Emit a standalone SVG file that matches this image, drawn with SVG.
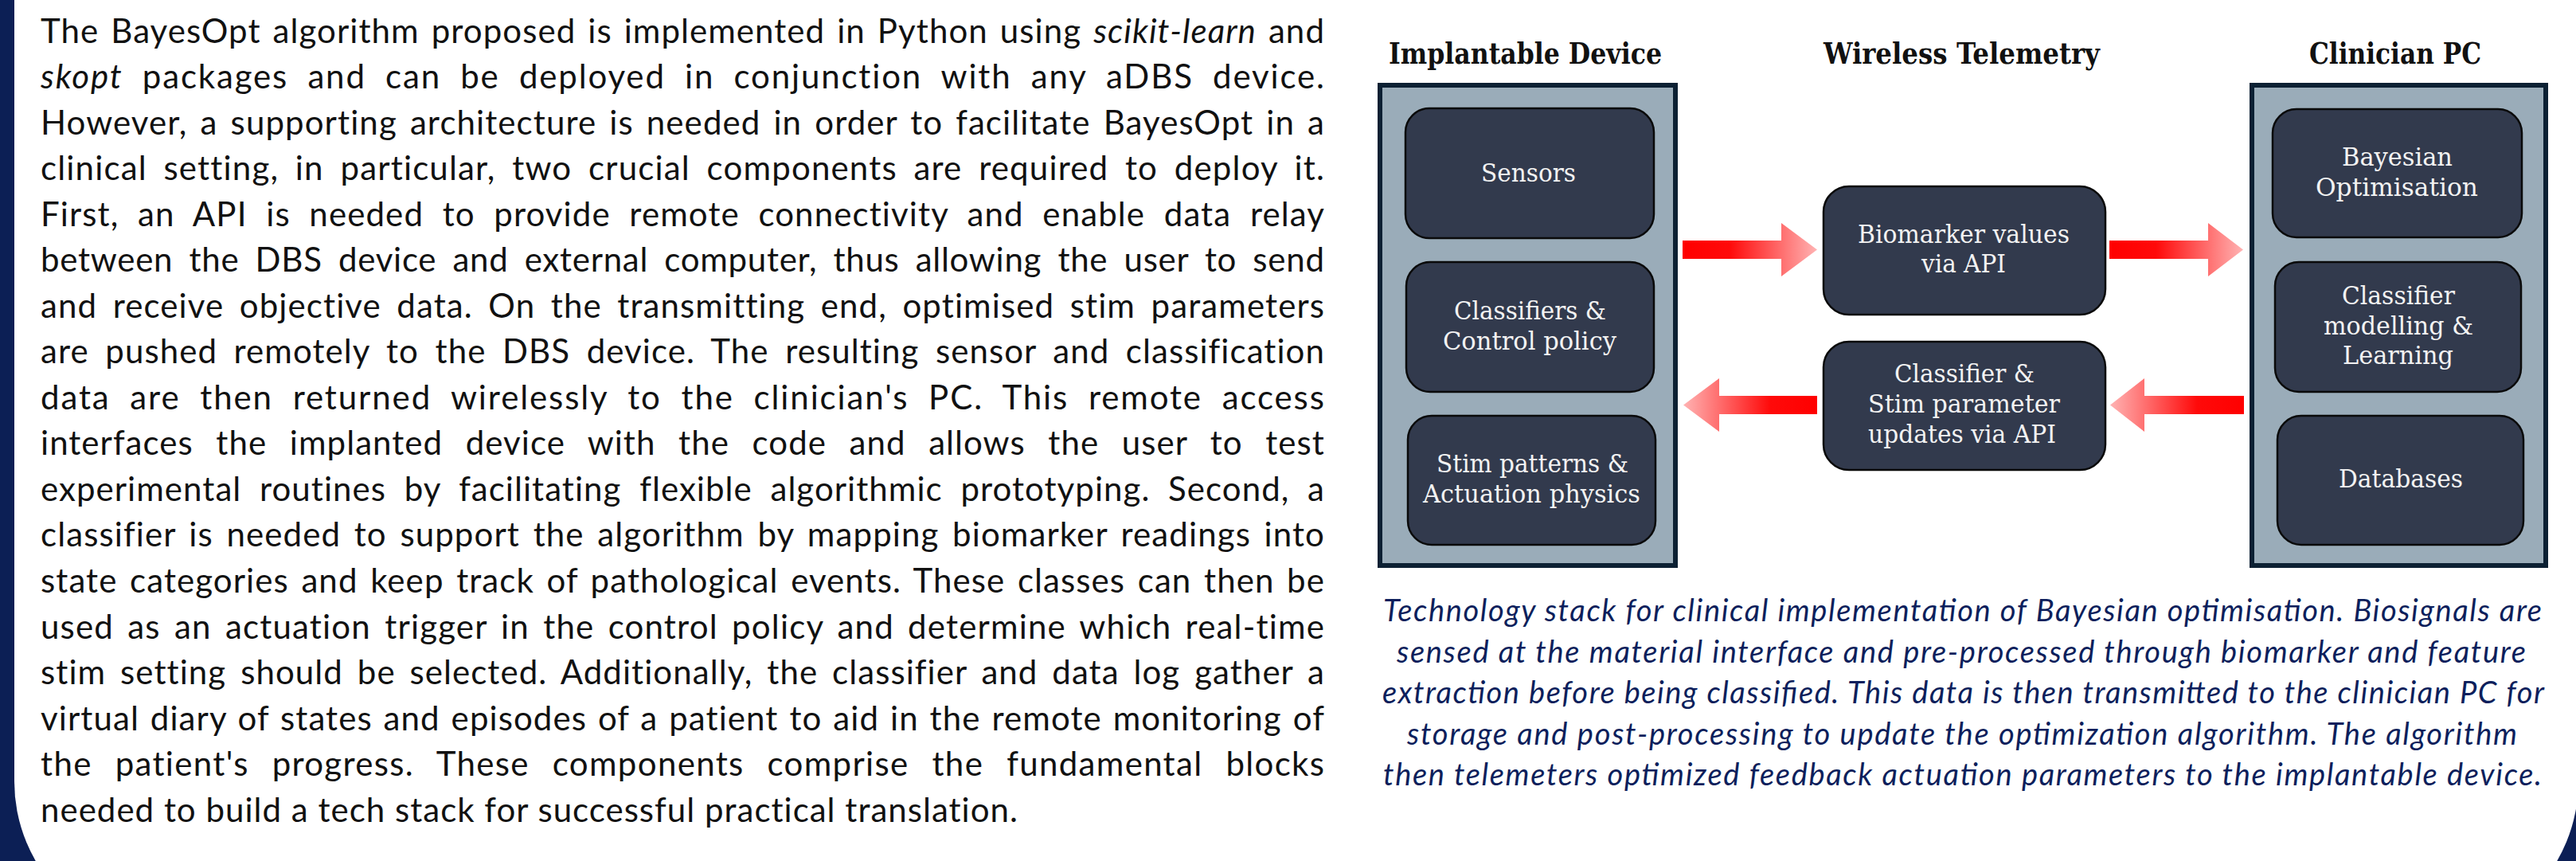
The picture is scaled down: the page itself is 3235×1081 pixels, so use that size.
<svg xmlns="http://www.w3.org/2000/svg" width="3235" height="1081" viewBox="0 0 3235 1081">
<style>
.para{font-family:Lato,"Liberation Sans",sans-serif;font-size:42px;fill:#111111;letter-spacing:1.1px}
.cap{font-family:Lato,"Liberation Sans",sans-serif;font-style:italic;font-size:38px;fill:#0d1f5c}
.hd{font-family:"DejaVu Serif","Liberation Serif",serif;font-weight:bold;font-size:37px;fill:#111111}
.lbl{font-family:"DejaVu Serif","Liberation Serif",serif;font-size:31px;fill:#f2f2f2}
.container{fill:#9aacb9;stroke:#0c2033;stroke-width:6}
.node rect{fill:#323a4d;stroke:#0a0a0a;stroke-width:2.5}
</style>
<defs>
<linearGradient id="gR" x1="0" y1="0" x2="1" y2="0">
<stop offset="0" stop-color="#ff0000"/>
<stop offset="0.35" stop-color="#ff0a0a"/>
<stop offset="1" stop-color="#ffb3b3"/>
</linearGradient>
<linearGradient id="gL" x1="1" y1="0" x2="0" y2="0">
<stop offset="0" stop-color="#ff0000"/>
<stop offset="0.35" stop-color="#ff0a0a"/>
<stop offset="1" stop-color="#ffb3b3"/>
</linearGradient>
</defs>
<rect x="0" y="0" width="3235" height="1081" fill="#0c1f55"/>
<rect x="18" y="-400" width="3220" height="1581" rx="200" fill="#ffffff"/>

<g id="paragraph" class="para">
<text x="51" y="53.5" word-spacing="3.2" textLength="1613" lengthAdjust="spacing">The BayesOpt algorithm proposed is implemented in Python using <tspan font-style="italic">scikit-learn</tspan> and</text>
<text x="51" y="111" word-spacing="11.7" textLength="1613" lengthAdjust="spacing"><tspan font-style="italic">skopt</tspan> packages and can be deployed in conjunction with any aDBS device.</text>
<text x="51" y="168.6" word-spacing="4.2" textLength="1613" lengthAdjust="spacing">However, a supporting architecture is needed in order to facilitate BayesOpt in a</text>
<text x="51" y="226.1" word-spacing="8.8" textLength="1613" lengthAdjust="spacing">clinical setting, in particular, two crucial components are required to deploy it.</text>
<text x="51" y="283.7" word-spacing="11.8" textLength="1613" lengthAdjust="spacing">First, an API is needed to provide remote connectivity and enable data relay</text>
<text x="51" y="341.2" word-spacing="8.75" textLength="1613" lengthAdjust="spacing">between the DBS device and external computer, thus allowing the user to send</text>
<text x="51" y="398.7" word-spacing="7.6" textLength="1613" lengthAdjust="spacing">and receive objective data. On the transmitting end, optimised stim parameters</text>
<text x="51" y="456.3" word-spacing="8.8" textLength="1613" lengthAdjust="spacing">are pushed remotely to the DBS device. The resulting sensor and classification</text>
<text x="51" y="513.8" word-spacing="12.1" textLength="1613" lengthAdjust="spacing">data are then returned wirelessly to the clinician's PC. This remote access</text>
<text x="51" y="571.4" word-spacing="16.8" textLength="1613" lengthAdjust="spacing">interfaces the implanted device with the code and allows the user to test</text>
<text x="51" y="628.9" word-spacing="10.9" textLength="1613" lengthAdjust="spacing">experimental routines by facilitating flexible algorithmic prototyping. Second, a</text>
<text x="51" y="686.4" word-spacing="4.8" textLength="1613" lengthAdjust="spacing">classifier is needed to support the algorithm by mapping biomarker readings into</text>
<text x="51" y="744" word-spacing="3.8" textLength="1613" lengthAdjust="spacing">state categories and keep track of pathological events. These classes can then be</text>
<text x="51" y="801.5" word-spacing="5.3" textLength="1613" lengthAdjust="spacing">used as an actuation trigger in the control policy and determine which real-time</text>
<text x="51" y="859.1" word-spacing="6.1" textLength="1613" lengthAdjust="spacing">stim setting should be selected. Additionally, the classifier and data log gather a</text>
<text x="51" y="916.6" word-spacing="2.1" textLength="1613" lengthAdjust="spacing">virtual diary of states and episodes of a patient to aid in the remote monitoring of</text>
<text x="51" y="974.1" word-spacing="16.9" textLength="1613" lengthAdjust="spacing">the patient's progress. These components comprise the fundamental blocks</text>
<text x="51" y="1031.7" textLength="1228" lengthAdjust="spacing">needed to build a tech stack for successful practical translation.</text>
</g>

<g id="headings" class="hd">
<text x="1744" y="80" textLength="343" lengthAdjust="spacingAndGlyphs">Implantable Device</text>
<text x="2290" y="80" textLength="347" lengthAdjust="spacingAndGlyphs">Wireless Telemetry</text>
<text x="2900" y="80" textLength="216" lengthAdjust="spacingAndGlyphs">Clinician PC</text>
</g>

<g id="implantable-device">
<rect class="container" x="1733" y="107" width="371" height="603"/>
</g>
<g id="clinician-pc">
<rect class="container" x="2828" y="107" width="369" height="603"/>
</g>

<g id="connectors">
<polygon fill="url(#gR)" points="2113,302 2237,302 2237,280 2282,313.5 2237,347 2237,325 2113,325"/>
<polygon fill="url(#gR)" points="2649,302 2773,302 2773,280 2817,313.5 2773,347 2773,325 2649,325"/>
<polygon fill="url(#gL)" points="2818,497 2693,497 2693,475 2650,508.5 2693,542 2693,520 2818,520"/>
<polygon fill="url(#gL)" points="2282,497 2159,497 2159,475 2114,508.5 2159,542 2159,520 2282,520"/>
</g>

<g id="sensors" class="node">
<rect x="1765" y="136" width="312" height="163" rx="30"/>
<text class="lbl" x="1860" y="228" textLength="119" lengthAdjust="spacingAndGlyphs">Sensors</text>
</g>
<g id="classifiers" class="node">
<rect x="1766" y="329" width="311" height="163" rx="30"/>
<text class="lbl" x="1826" y="401" textLength="191" lengthAdjust="spacingAndGlyphs">Classifiers &amp;</text>
<text class="lbl" x="1812" y="438.5" textLength="218" lengthAdjust="spacingAndGlyphs">Control policy</text>
</g>
<g id="stim-patterns" class="node">
<rect x="1768" y="522" width="311" height="162" rx="30"/>
<text class="lbl" x="1804" y="593" textLength="241" lengthAdjust="spacingAndGlyphs">Stim patterns &amp;</text>
<text class="lbl" x="1787" y="631" textLength="273" lengthAdjust="spacingAndGlyphs">Actuation physics</text>
</g>

<g id="biomarker-values" class="node">
<rect x="2290" y="234" width="354" height="161" rx="32"/>
<text class="lbl" x="2333" y="305" textLength="266" lengthAdjust="spacingAndGlyphs">Biomarker values</text>
<text class="lbl" x="2413" y="342" textLength="106" lengthAdjust="spacingAndGlyphs">via API</text>
</g>
<g id="stim-parameter-updates" class="node">
<rect x="2290" y="429" width="354" height="161" rx="32"/>
<text class="lbl" x="2379" y="480" textLength="176" lengthAdjust="spacingAndGlyphs">Classifier &amp;</text>
<text class="lbl" x="2346" y="518" textLength="241" lengthAdjust="spacingAndGlyphs">Stim parameter</text>
<text class="lbl" x="2346" y="555.5" textLength="236" lengthAdjust="spacingAndGlyphs">updates via API</text>
</g>

<g id="bayesian-optimisation" class="node">
<rect x="2854" y="137" width="313" height="161" rx="30"/>
<text class="lbl" x="2941" y="208" textLength="139" lengthAdjust="spacingAndGlyphs">Bayesian</text>
<text class="lbl" x="2908" y="246" textLength="204" lengthAdjust="spacingAndGlyphs">Optimisation</text>
</g>
<g id="classifier-modelling" class="node">
<rect x="2857" y="329" width="309" height="163" rx="30"/>
<text class="lbl" x="2941" y="382" textLength="142" lengthAdjust="spacingAndGlyphs">Classifier</text>
<text class="lbl" x="2918" y="419.5" textLength="188" lengthAdjust="spacingAndGlyphs">modelling &amp;</text>
<text class="lbl" x="2942" y="457" textLength="139" lengthAdjust="spacingAndGlyphs">Learning</text>
</g>
<g id="databases" class="node">
<rect x="2860" y="522" width="309" height="162" rx="30"/>
<text class="lbl" x="2937" y="612" textLength="156" lengthAdjust="spacingAndGlyphs">Databases</text>
</g>

<g id="caption" class="cap">
<text x="1737" y="780" textLength="1455" lengthAdjust="spacing">Technology stack for clinical implementation of Bayesian optimisation. Biosignals are</text>
<text x="1754" y="831.5" textLength="1418" lengthAdjust="spacing">sensed at the material interface and pre-processed through biomarker and feature</text>
<text x="1736" y="883" textLength="1459" lengthAdjust="spacing">extraction before being classified. This data is then transmitted to the clinician PC for</text>
<text x="1767" y="934.5" textLength="1394" lengthAdjust="spacing">storage and post-processing to update the optimization algorithm. The algorithm</text>
<text x="1737" y="986" textLength="1455" lengthAdjust="spacing">then telemeters optimized feedback actuation parameters to the implantable device.</text>
</g>
</svg>
